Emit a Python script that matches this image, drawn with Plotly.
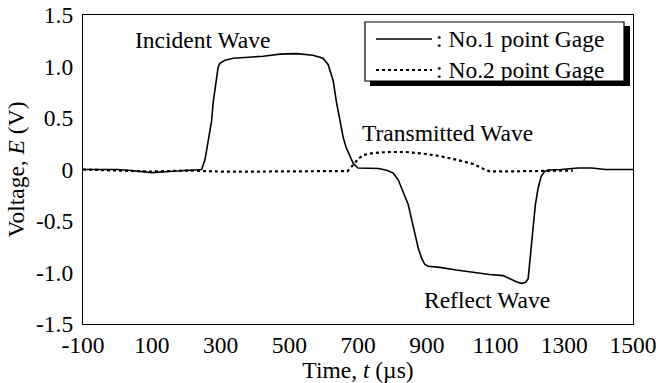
import plotly.graph_objects as go

# No.1 point gage: incident pulse followed by reflected pulse
t_gage1 = [-100, 0, 40, 100, 150, 200, 245, 255, 264, 274, 279, 284, 289, 293, 298,
           303, 313, 337, 376, 424, 473, 521, 569, 598, 613, 628, 637, 647, 657,
           666, 676, 686, 700, 730, 760, 783, 802, 817, 831, 846, 855, 865, 875,
           885, 894, 904, 938, 986, 1035, 1083, 1122, 1141, 1161, 1175, 1188,
           1195, 1199, 1204, 1209, 1216, 1224, 1233, 1243, 1253, 1290, 1340,
           1380, 1420, 1500]
v_gage1 = [0.0, 0.0, -0.01, -0.03, -0.02, -0.01, 0.0, 0.096, 0.27, 0.47, 0.66,
           0.79, 0.91, 0.99, 1.03, 1.04, 1.06, 1.08, 1.09, 1.10, 1.12, 1.125,
           1.11, 1.08, 1.02, 0.86, 0.66, 0.47, 0.31, 0.21, 0.13, 0.06, 0.015,
           0.01, 0.01, -0.008, -0.034, -0.10, -0.21, -0.34, -0.47, -0.63,
           -0.76, -0.86, -0.92, -0.94, -0.95, -0.976, -1.0, -1.02, -1.03,
           -1.06, -1.09, -1.105, -1.095, -1.06, -0.93, -0.73, -0.54, -0.34,
           -0.18, -0.066, -0.018, -0.005, 0.0, 0.015, 0.015, 0.0, 0.0]

# No.2 point gage: transmitted pulse
t_gage2 = [-100, 0, 100, 200, 300, 400, 500, 600, 670, 682, 700, 715, 744, 790,
           841, 899, 938, 986, 1035, 1064, 1083, 1150, 1220, 1280, 1325]
v_gage2 = [0.0, -0.01, -0.02, -0.01, -0.02, -0.02, -0.02, -0.02, -0.015, 0.03,
           0.10, 0.14, 0.16, 0.17, 0.17, 0.15, 0.13, 0.095, 0.054, 0.008,
           -0.018, -0.018, -0.012, -0.01, -0.01]

x_ticks = [-100, 100, 300, 500, 700, 900, 1100, 1300, 1500]
x_tick_text = ["-100", "100", "300", "500", "700", "900", "1100", "1300", "1500"]
y_ticks = [1.5, 1.0, 0.5, 0, -0.5, -1.0, -1.5]
y_tick_text = ["1.5", "1.0", "0.5", "0", "-0.5", "-1.0", "-1.5"]

FONT = "Liberation Serif, Times New Roman, serif"
FS = 23.5

fig = go.Figure()
fig.add_trace(go.Scatter(x=t_gage1, y=v_gage1, mode="lines",
                         line=dict(color="black", width=1.6),
                         name=": No.1 point Gage", showlegend=False))
fig.add_trace(go.Scatter(x=t_gage2, y=v_gage2, mode="lines",
                         line=dict(color="black", width=2.2, dash="dot"),
                         name=": No.2 point Gage", showlegend=False))

# plot-area geometry in pixels, used to place the legend box
L, R, T, B = 83, 633, 15, 324


def px(x):
    return (x - L) / (R - L)


def py(y):
    return (B - y) / (B - T)


shapes = [
    # legend drop shadow
    dict(type="rect", xref="paper", yref="paper",
         x0=px(370), x1=px(630), y0=py(86), y1=py(26),
         fillcolor="black", line=dict(width=0), layer="above"),
    # legend box
    dict(type="rect", xref="paper", yref="paper",
         x0=px(365), x1=px(624), y0=py(81), y1=py(22),
         fillcolor="white", line=dict(color="black", width=1.2), layer="above"),
    # legend samples
    dict(type="line", xref="paper", yref="paper",
         x0=px(376), x1=px(432), y0=py(39), y1=py(39),
         line=dict(color="black", width=1.6), layer="above"),
    dict(type="line", xref="paper", yref="paper",
         x0=px(376), x1=px(432), y0=py(70), y1=py(70),
         line=dict(color="black", width=2.0, dash="dot"), layer="above"),
]

annotations = [
    dict(text=": No.1 point Gage", xref="paper", yref="paper",
         x=px(434), y=py(39), xanchor="left", yanchor="middle", showarrow=False),
    dict(text=": No.2 point Gage", xref="paper", yref="paper",
         x=px(434), y=py(70), xanchor="left", yanchor="middle", showarrow=False),
    dict(text="Incident Wave", x=249, y=1.26, showarrow=False),
    dict(text="Transmitted Wave", x=961, y=0.355, showarrow=False),
    dict(text="Reflect Wave", x=1074, y=-1.27, showarrow=False),
]

fig.update_layout(
    width=661, height=383,
    margin=dict(l=L, r=661 - R, t=T, b=383 - B),
    paper_bgcolor="white", plot_bgcolor="white",
    font=dict(family=FONT, size=FS, color="black"),
    shapes=shapes, annotations=annotations,
    showlegend=False,
)
fig.update_xaxes(
    range=[-100, 1500], tickvals=x_ticks, ticktext=x_tick_text, ticks="",
    showgrid=False, zeroline=False,
    showline=True, linecolor="black", linewidth=1.2, mirror=True,
    title=dict(text="Time, <i>t</i> (µs)", standoff=0,
               font=dict(family=FONT, size=FS)),
    automargin=False,
)
fig.update_yaxes(
    range=[-1.5, 1.5], tickvals=y_ticks, ticktext=y_tick_text, ticks="",
    showgrid=False, zeroline=False,
    showline=True, linecolor="black", linewidth=1.2, mirror=True,
    title=dict(text="Voltage, <i>E</i> (V)", standoff=4,
               font=dict(family=FONT, size=FS)),
    ticklabelstandoff=4,
    automargin=False,
)

fig.write_html("out.html")
